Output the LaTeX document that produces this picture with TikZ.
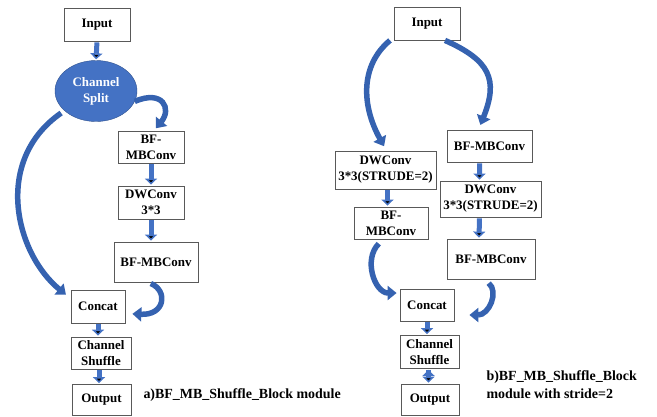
\documentclass[tikz,border=0pt]{standalone}
\usepackage{fontspec}
\setmainfont{Liberation Serif}
\usepackage{tikz}
\usetikzlibrary{shapes.geometric, arrows.meta, positioning}

\definecolor{boxblue}{HTML}{4472C4}
\definecolor{darkblue}{HTML}{3562B0}
\definecolor{edgeblue}{HTML}{2F528F}

\begin{document}
\begin{tikzpicture}[x=1bp, y=1bp,
        font=\bfseries\fontsize{13}{16}\selectfont,
        box/.style={draw=black!65, line width=0.8bp, fill=white, align=center, inner sep=1bp},
        blockarrow/.style={draw=boxblue, line width=5bp, -{Triangle[width=12bp,length=6bp]}, shorten >=1bp, shorten <=1bp},
        bendarrow/.style={draw=darkblue, line width=5.5bp, -{Triangle[width=14bp,length=9bp]}},
        caption/.style={font=\bfseries\fontsize{14}{18}\selectfont, align=left, anchor=west}]

        \useasboundingbox (0,0) rectangle (657,-416);

        % a) shuffle block
        \node[box, minimum width=66bp, minimum height=33bp]   (in1)     at (97,-24.5)   {Input};
        \node[ellipse, fill=boxblue, draw=edgeblue, text=white, align=center,
              minimum width=82bp, minimum height=61bp]         (split)   at (96,-91)     {Channel\\Split};
        \node[box, minimum width=66bp, minimum height=32bp]   (bf1)     at (151,-147)   {BF-\\MBConv};
        \node[box, minimum width=66bp, minimum height=33bp]   (dw1)     at (151,-202.5) {DWConv\\3*3};
        \node[box, minimum width=84bp, minimum height=40bp]   (bf2)     at (156,-262)   {BF-MBConv};
        \node[box, minimum width=54bp, minimum height=33bp]   (concat1) at (98,-306.5)  {Concat};
        \node[box, minimum width=60bp, minimum height=32bp]   (sh1)     at (101,-353)   {Channel\\Shuffle};
        \node[box, minimum width=59bp, minimum height=31bp]   (out1)    at (101.5,-400) {Output};
        \node[caption]                                        (capA)    at (140,-395)   {a)BF\_MB\_Shuffle\_Block module};

        % b) shuffle block with stride=2
        \node[box, minimum width=66bp, minimum height=33bp]   (in2)     at (427,-23.5)  {Input};
        \node[box, minimum width=101bp, minimum height=38bp]  (dw2a)    at (385.5,-170) {DWConv\\3*3(STRUDE=2)};
        \node[box, minimum width=74bp, minimum height=32bp]   (bf2a)    at (391,-223)   {BF-\\MBConv};
        \node[box, minimum width=85bp, minimum height=32bp]   (bf2b)    at (489.5,-146) {BF-MBConv};
        \node[box, minimum width=101bp, minimum height=36bp]  (dw2b)    at (490.5,-199) {DWConv\\3*3(STRUDE=2)};
        \node[box, minimum width=88bp, minimum height=40bp]   (bf2c)    at (491,-259)   {BF-MBConv};
        \node[box, minimum width=54bp, minimum height=32bp]   (concat2) at (427,-305)   {Concat};
        \node[box, minimum width=59bp, minimum height=33bp]   (sh2)     at (429.5,-352) {Channel\\Shuffle};
        \node[box, minimum width=58bp, minimum height=31bp]   (out2)    at (430,-399.5) {Output};
        \node[caption]                                        (capB)    at (483,-385)   {b)BF\_MB\_Shuffle\_Block\\module with stride=2};

        \draw[blockarrow]
                (in1.south)                 edge    (split.north)
                (bf1.south)                 edge    (dw1.north)
                (dw1.south)                 edge    (dw1.south |- bf2.north)
                (concat1.south)             edge    (concat1.south |- sh1.north)
                ([xshift=-2bp]sh1.south)    edge    ([xshift=-2bp]sh1.south |- out1.north)
                ([xshift=2bp]dw2a.south)    edge    ([xshift=2bp]dw2a.south |- bf2a.north)
                ([xshift=-10bp]bf2b.south)  edge    ([xshift=-11bp]dw2b.north)
                ([xshift=-11bp]dw2b.south)  edge    ([xshift=-12bp]bf2c.north)
                (concat2.south)             edge    (concat2.south |- sh2.north)
                ([xshift=-1bp]sh2.south)    edge    ([xshift=-1bp]sh2.south |- out2.north);

        \draw[bendarrow, shorten >=3bp] (split.-15) .. controls +(28,12) and +(18,22) .. ([xshift=3bp]bf1.north);
        \draw[bendarrow, shorten <=4bp, shorten >=6bp] (split.212) .. controls +(-72,-50) and +(-55,45) .. ([yshift=8bp]concat1.west);
        \draw[bendarrow, shorten <=3bp, shorten >=7bp] ([xshift=-8bp]bf2.south) .. controls +(20,-8) and +(40,-2) .. ([yshift=-7bp]concat1.east);
        \draw[bendarrow, shorten >=5bp] ([xshift=-37bp]in2.south) .. controls +(-30,-25) and +(-25,45) .. ([xshift=1bp]dw2a.north);
        \draw[bendarrow, shorten >=5bp] ([xshift=18bp]in2.south) .. controls +(45,-20) and +(20,50) .. ([xshift=-11bp]bf2b.north);
        \draw[bendarrow, shorten <=6bp, shorten >=3bp] ([xshift=-8bp]bf2a.south) .. controls +(-20,-20) and +(-25,0) .. ([yshift=12bp]concat2.west);
        \draw[bendarrow, shorten <=6bp, shorten >=15bp] ([xshift=-7bp]bf2c.south) .. controls +(15,-12) and +(35,0) .. ([yshift=-10bp]concat2.east);

    \end{tikzpicture}
\end{document}
